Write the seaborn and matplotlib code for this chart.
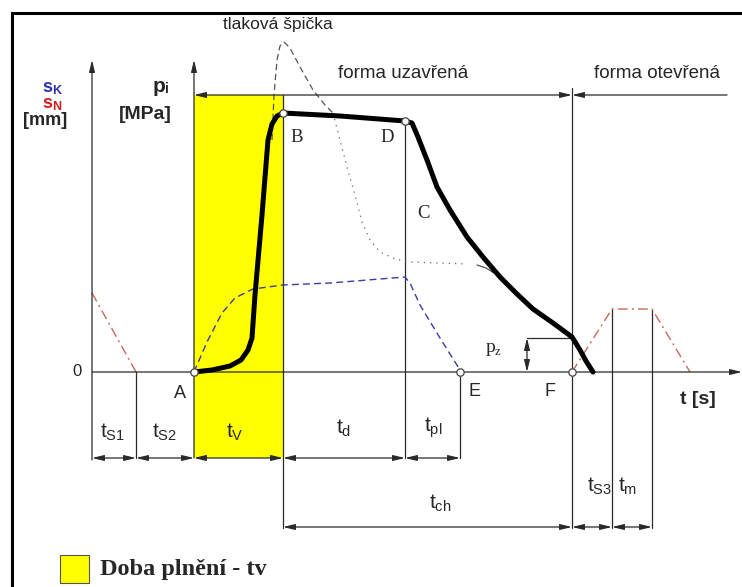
import matplotlib
matplotlib.use("Agg")
import matplotlib.pyplot as plt
from matplotlib.patches import Rectangle
import seaborn as sns

# ---------------- data (chart units: x = time axis, y = downward screen units) -------------
# cavity pressure p_i (thick black)
press_t = [194, 212, 230, 241, 248, 252, 255, 262, 268, 272, 277, 283, 340, 405, 412, 418, 427,
           437, 450, 467, 483, 500, 517, 533, 553, 572, 580, 586, 593]
press_v = [372, 370, 366, 360, 350, 338, 295, 215, 140, 124, 116, 113, 116, 121, 123, 137, 160,
           187, 210, 237, 257, 277, 294, 309, 323, 337, 350, 361, 372]
# screw stroke s_K (blue dashed)
screw_t = [194, 207, 222, 235, 253, 283, 330, 380, 405, 410, 420, 440, 460]
screw_v = [372, 342, 313, 298, 289, 285, 283, 279, 277, 283, 305, 338, 370]
# pressure peak (grey dashed then dotted)
peak_t = [272, 274, 277, 280, 284, 290, 300, 313, 325, 333]
peak_v = [140, 95, 60, 46, 42, 48, 67, 90, 105, 113]
peakdot_t = [333, 340, 347, 355, 362, 370, 380, 395, 410, 440, 467]
peakdot_v = [113, 140, 167, 195, 222, 240, 252, 259, 262, 263, 264]
peaktail_t = [477, 486, 494]
peaktail_v = [265, 268, 273]
# nozzle stroke s_N (red dash-dot)
nozzle1_t = [92, 136]
nozzle1_v = [293, 372]
nozzle2_t = [572, 612, 652, 690]
nozzle2_v = [372, 309, 309, 372]
# phase boundaries
row1_bounds = [92, 136, 194, 283, 405, 460]
row1_labels = ["S1", "S2", "V", "d", "pl"]
row2_bounds = [283, 572, 612, 652]
row2_labels = ["ch", "S3", "m"]
points_t = [194, 283, 405, 460, 572]
points_v = [372, 113, 121, 372, 372]

# ---------------- style -------------
sns.set_style("white")
plt.rcParams['font.family'] = ['Liberation Sans', 'DejaVu Sans']
plt.rcParams['mathtext.fontset'] = 'custom'
plt.rcParams['mathtext.rm'] = 'Liberation Sans'
plt.rcParams['mathtext.it'] = 'Liberation Sans'
plt.rcParams['mathtext.bf'] = 'Liberation Sans:bold'

fig = plt.figure(figsize=(7.42, 5.87), dpi=100)
ax = fig.add_axes([0, 0, 1, 1])

LC = '#2a2a2a'
AX_LW = 0.9
SERIF = ['Liberation Serif', 'DejaVu Serif']

# border
ax.plot([12, 12], [587, 13], color='black', lw=2.2, solid_capstyle='projecting')
ax.plot([12, 742], [13, 13], color='black', lw=2.2, solid_capstyle='projecting')

# yellow filling-time band
ax.add_patch(Rectangle((194, 95), 283 - 194, 458 - 95, facecolor='#ffff00', edgecolor='none', zorder=0))


def arrow(x0, y0, x1, y1, style='-|>'):
    ax.annotate('', xy=(x1, y1), xytext=(x0, y0),
                arrowprops=dict(arrowstyle=f'{style},head_length=0.7,head_width=0.17',
                                color=LC, lw=AX_LW, shrinkA=0, shrinkB=0), zorder=3)


def vline(x, y0, y1):
    ax.plot([x, x], [y0, y1], color=LC, lw=AX_LW, zorder=2)


# axes
arrow(92, 460, 92, 60)
arrow(194, 458, 194, 60)
arrow(92, 372, 742, 372)

# top line with mould state
arrow(194, 95, 572, 95, '<|-|>')
arrow(727, 95, 572, 95)

# verticals
vline(283, 95, 528)
vline(405, 121, 458)
vline(572, 88, 528)
vline(460, 372, 458)
vline(136, 372, 458)
vline(612, 309, 528)
vline(652, 309, 528)

# dimension rows
for a, b in zip(row1_bounds[:-1], row1_bounds[1:]):
    arrow(a, 458, b, 458, '<|-|>')
for a, b in zip(row2_bounds[:-1], row2_bounds[1:]):
    arrow(a, 527, b, 527, '<|-|>')

# p_z dimension
ax.plot([527, 572], [338, 338], color=LC, lw=AX_LW)
arrow(527, 338, 527, 372, '<|-|>')

# curves
sns.lineplot(x=nozzle1_t, y=nozzle1_v, sort=False, estimator=None, ax=ax, color='#c86a5a',
             lw=1.0, linestyle=(0, (7, 3, 1.5, 3)))
sns.lineplot(x=nozzle2_t, y=nozzle2_v, sort=False, estimator=None, ax=ax, color='#c86a5a',
             lw=1.0, linestyle=(0, (7, 3, 1.5, 3)))
sns.lineplot(x=screw_t, y=screw_v, sort=False, estimator=None, ax=ax, color='#3b3ba8',
             lw=1.0, linestyle=(0, (5, 3)))
sns.lineplot(x=peak_t, y=peak_v, sort=False, estimator=None, ax=ax, color='#555555',
             lw=0.9, linestyle=(0, (5, 3)))
sns.lineplot(x=peakdot_t, y=peakdot_v, sort=False, estimator=None, ax=ax, color='#666666',
             lw=0.9, linestyle=(0, (1, 4)))
sns.lineplot(x=peaktail_t, y=peaktail_v, sort=False, estimator=None, ax=ax, color='#555555',
             lw=0.9)
sns.lineplot(x=press_t, y=press_v, sort=False, estimator=None, ax=ax, color='black',
             lw=3.6, zorder=5)
ax.set_xlim(0, 742)
ax.set_ylim(587, 0)
ax.axis('off')

ax.scatter(points_t, points_v, s=28, facecolor='white', edgecolor='#444444', linewidth=0.9, zorder=6)

# axis labels (symbol + subscript drawn separately, on baselines)
ax.text(52, 92, 's', color='#3030b0', fontsize=13, fontweight='bold', ha='right', va='baseline')
ax.text(52, 94, 'K', color='#3030b0', fontsize=9, fontweight='bold', ha='left', va='baseline')
ax.text(52, 108, 's', color='#d02020', fontsize=13, fontweight='bold', ha='right', va='baseline')
ax.text(52, 110, 'N', color='#d02020', fontsize=9, fontweight='bold', ha='left', va='baseline')
ax.text(67, 125, '[mm]', fontsize=13, fontweight='bold', ha='right', va='baseline')
ax.text(165, 92, 'p', fontsize=15, fontweight='bold', ha='right', va='baseline')
ax.text(165, 93, 'i', fontsize=10, fontweight='bold', ha='left', va='baseline')
ax.text(172, 119, '[MPa]', fontsize=14, fontweight='bold', ha='right', va='baseline')
ax.text(77, 372, '0', fontsize=12, ha='center', va='center')
ax.text(698, 400, 't [s]', fontsize=14, fontweight='bold', ha='center', va='center')

ax.text(278, 24, 'tlaková špička', fontsize=12.5, ha='center', va='center')
ax.text(403, 73, 'forma uzavřená', fontsize=13.5, ha='center', va='center')
ax.text(657, 73, 'forma otevřená', fontsize=13.5, ha='center', va='center')

for lbl, (x, y) in zip(['A', 'E', 'F'], [(180, 393), (475, 392), (550, 392)]):
    ax.text(x, y, lbl, fontsize=13, ha='center', va='center')
for lbl, (x, y) in zip(['B', 'D', 'C'], [(297, 137), (387, 137), (423, 213)]):
    ax.text(x, y, lbl, fontsize=13.5, ha='center', va='center', family=SERIF)
ax.text(495, 348, 'p', fontsize=14, ha='right', va='center', family=SERIF)
ax.text(495, 352, 'z', fontsize=9, ha='left', va='center', family=SERIF)

row1_pos = [(113, 432), (165, 432), (235, 432), (344, 428), (433, 428)]
for lbl, (x, y) in zip(row1_labels, row1_pos):
    ax.text(x, y, r'$\mathregular{t_{' + lbl + '}}$', fontsize=15, ha='center', va='center')
row2_pos = [(440, 503), (600, 486), (628, 486)]
for lbl, (x, y) in zip(row2_labels, row2_pos):
    ax.text(x, y, r'$\mathregular{t_{' + lbl + '}}$', fontsize=15, ha='center', va='center')

# legend
ax.add_patch(Rectangle((60, 555), 29, 28, facecolor='#ffff00', edgecolor='#555555', lw=0.8))
ax.text(100, 569, 'Doba plnění - tv', fontsize=17.5, fontweight='bold', family=SERIF,
        ha='left', va='center')

fig.savefig('out.png', dpi=100)
